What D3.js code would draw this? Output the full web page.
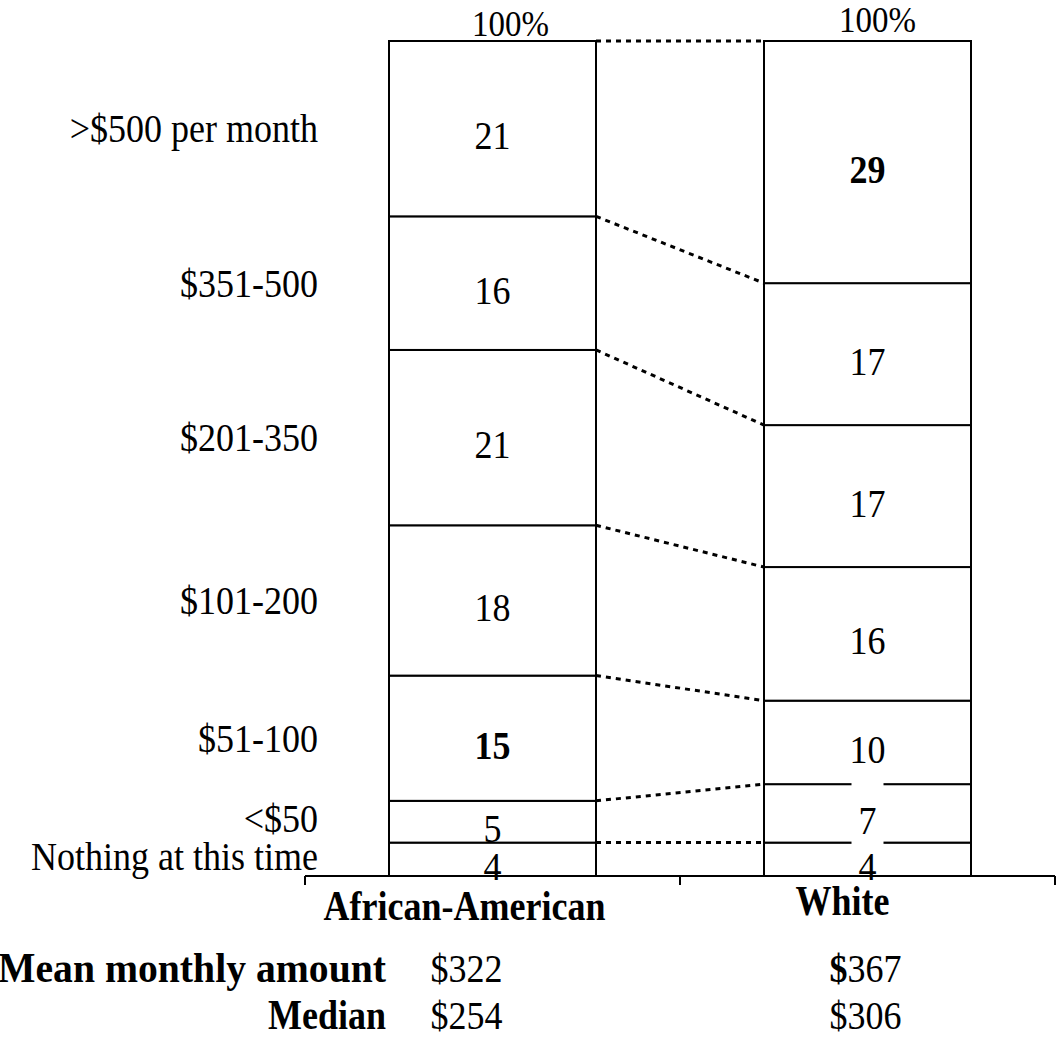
<!DOCTYPE html>
<html>
<head>
<meta charset="utf-8">
<script src="https://cdn.jsdelivr.net/npm/d3@7"></script>
<style>
  body { margin: 0; background: #fff; }
  svg text { font-family: "Liberation Serif", "Times New Roman", serif; fill: #000; }
</style>
</head>
<body>
<svg id="chart" width="1057" height="1037"></svg>
<script>
// categories, bottom to top
var categories = ["Nothing at this time", "<$50", "$51-100", "$101-200", "$201-350", "$351-500", ">$500 per month"];
var groups = ["African-American", "White"];

// percent of each group in each category (bottom to top)
var africanAmerican = [4, 5, 15, 18, 21, 16, 21];
var white = [4, 7, 10, 16, 17, 17, 29];

// bold value labels (category index per group)
var boldCells = { "African-American": [2], "White": [6] };

// summary rows
var statNames = ["Mean monthly amount", "Median"];
var statAA = ["$322", "$254"];
var statWhite = ["$367", "$306"];

var svg = d3.select("#chart");

var y = d3.scaleLinear().domain([0, 100]).range([876, 41]);
var x = d3.scalePoint().domain(groups).range([305, 1055]).padding(0.5);
var barHalf = 103.5;

/*
  text helper: the original type is a bit taller than plain Times,
  so every label gets a small vertical stretch
*/
function addText(parent, px, py, str, opts) {
    opts = opts || {};
    var t = parent.append("text")
        .attr("transform", "translate(" + px + "," + py + ") scale(1," + (opts.sy || 1.1) + ")")
        .attr("text-anchor", opts.anchor || "middle")
        .attr("font-size", opts.size || 36)
        .attr("font-weight", opts.bold ? "bold" : "normal");
    if (opts.central) t.attr("dominant-baseline", "central");
    if (opts.length) t.attr("textLength", opts.length).attr("lengthAdjust", "spacingAndGlyphs");
    if (str !== null) t.text(str);
    return t;
}

// stack the values
var series = [africanAmerican, white];
var stacked = series.map(function (vals, gi) {
    var acc = 0;
    return vals.map(function (v, i) {
        var d = { group: groups[gi], cat: categories[i], idx: i, value: v, y0: acc, y1: acc + v };
        acc += v;
        return d;
    });
});

/* dotted connectors between matching boundaries */
var boundaries = d3.range(1, categories.length + 1).map(function (i) {
    return { a: stacked[0][i - 1].y1, b: stacked[1][i - 1].y1 };
});
svg.append("g").selectAll("line")
    .data(boundaries)
    .join("line")
    .attr("x1", x(groups[0]) + barHalf)
    .attr("x2", x(groups[1]) - barHalf)
    .attr("y1", function (d) { return y(d.a); })
    .attr("y2", function (d) { return y(d.b); })
    .attr("stroke", "#000")
    .attr("stroke-width", 3)
    .attr("stroke-dasharray", "5,5");

/* bar segments */
stacked.forEach(function (segs) {
    svg.append("g").selectAll("rect")
        .data(segs)
        .join("rect")
        .attr("x", function (d) { return x(d.group) - barHalf; })
        .attr("y", function (d) { return y(d.y1); })
        .attr("width", barHalf * 2)
        .attr("height", function (d) { return y(d.y0) - y(d.y1); })
        .attr("fill", "#fff")
        .attr("stroke", "#000")
        .attr("stroke-width", 2);
});

/* value labels */
stacked.forEach(function (segs) {
    var g = svg.append("g");
    segs.forEach(function (d) {
        var cx = x(d.group);
        var cy = y((d.y0 + d.y1) / 2) + 7;
        // the small "7" cell in White gets a white box behind it
        if (d.group === "White" && d.value === 7) {
            g.append("rect")
                .attr("x", cx - 16).attr("y", y(d.y1) - 4)
                .attr("width", 32).attr("height", y(d.y0) - y(d.y1) + 8)
                .attr("fill", "#fff");
        }
        addText(g, cx, cy, d.value, {
            central: true,
            bold: boldCells[d.group].indexOf(d.idx) >= 0
        });
    });
});

/* 100% labels on top */
addText(svg, x(groups[0]) + 18, 36, "100%", { size: 33 });
addText(svg, x(groups[1]) + 10, 32, "100%", { size: 33 });

/* category labels on the left */
var catG = svg.append("g");
stacked[0].forEach(function (d) {
    addText(catG, 318, y((d.y0 + d.y1) / 2) + (d.idx < 2 ? -3 : 0), d.cat, { anchor: "end", central: true });
});

/* axis */
var axis = svg.append("g");
axis.append("line")
    .attr("x1", 305).attr("x2", 1055)
    .attr("y1", y(0)).attr("y2", y(0))
    .attr("stroke", "#000").attr("stroke-width", 2);
axis.selectAll(".tick")
    .data([305, 680, 1055])
    .join("line")
    .attr("x1", function (d) { return d; }).attr("x2", function (d) { return d; })
    .attr("y1", y(0)).attr("y2", y(0) + 9)
    .attr("stroke", "#000").attr("stroke-width", 2);

/* group names */
addText(svg, x(groups[0]) - 28, 920, groups[0], { size: 36, bold: true, sy: 1.18 });
addText(svg, x(groups[1]) - 25, 915, groups[1], { size: 36, bold: true, sy: 1.18 });

/* summary rows */
var statY = [982, 1029];
statNames.forEach(function (name, i) {
    addText(svg, 386, statY[i], name, {
        anchor: "end", bold: true, sy: 1.18,
        length: i === 0 ? 388 : null
    });
    addText(svg, x(groups[0]) - 26, statY[i], statAA[i], { sy: 1.12 });
    var t = addText(svg, x(groups[1]) - 2, statY[i], null, { sy: 1.12 });
    if (i === 0) {
        t.append("tspan").attr("font-weight", "bold").text(statWhite[i].slice(0, 1));
        t.append("tspan").text(statWhite[i].slice(1));
    } else {
        t.text(statWhite[i]);
    }
});
</script>
</body>
</html>
